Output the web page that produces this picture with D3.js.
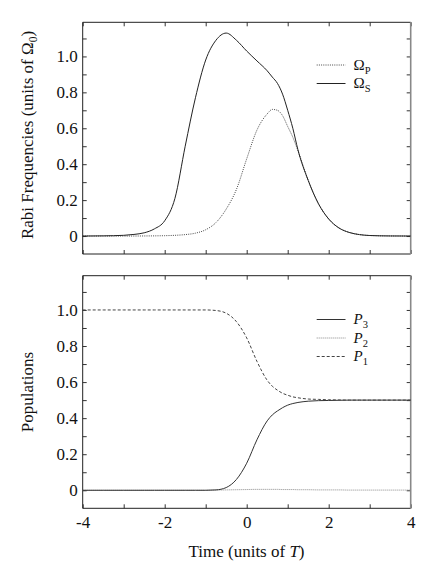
<!doctype html>
<html>
<head>
<style>
    body { margin: 0; background: #fff; }
    svg text { font-family: "Liberation Serif", "Times New Roman", serif !important; fill: #111; }
</style>
<script src="https://d3js.org/d3.v7.min.js"></script>
</head>
<body>

    <svg id="chart" width="436" height="578"></svg>

    <script>

        // time grid shared by every curve (units of T)
        var time = [-4, -3.5, -3, -2.75, -2.5, -2.25, -2, -1.75, -1.5, -1.25, -1, -0.75, -0.5, -0.25,
                    0, 0.25, 0.5, 0.625, 0.75, 0.875, 1, 1.125, 1.25, 1.5, 1.75, 2, 2.25, 2.5, 2.75, 3, 3.5, 4];

        // Rabi frequencies (units of Omega_0)
        var omegaS = [0, 0.001, 0.004, 0.009, 0.018, 0.04, 0.085, 0.21, 0.50, 0.77, 0.98, 1.09, 1.13, 1.09,
                      1.03, 0.975, 0.92, 0.885, 0.85, 0.79, 0.70, 0.60, 0.48, 0.31, 0.18, 0.095, 0.045, 0.02, 0.008, 0.003, 0.0005, 0];
        var omegaP = [0, 0, 0, 0, 0.0005, 0.001, 0.002, 0.004, 0.008, 0.016, 0.035, 0.075, 0.15, 0.26,
                      0.43, 0.59, 0.68, 0.705, 0.70, 0.67, 0.61, 0.55, 0.475, 0.31, 0.18, 0.095, 0.045, 0.02, 0.008, 0.003, 0.0005, 0];

        // populations
        var pop3 = [0, 0, 0, 0, 0, 0, 0, 0, 0, 0, 0, 0.002, 0.015, 0.06,
                    0.15, 0.28, 0.385, 0.418, 0.44, 0.458, 0.472, 0.481, 0.487, 0.494, 0.497, 0.498, 0.499, 0.5, 0.5, 0.5, 0.5, 0.5];
        var pop2 = [0, 0, 0, 0, 0, 0, 0, 0, 0, 0, 0, 0.001, 0.002, 0.003,
                    0.004, 0.005, 0.005, 0.005, 0.005, 0.004, 0.004, 0.004, 0.003, 0.003, 0.002, 0.002, 0.002, 0.001, 0.001, 0.001, 0.001, 0.001];
        var pop1 = [1, 1, 1, 1, 1, 1, 1, 1, 1, 1, 1, 0.997, 0.982, 0.935,
                    0.845, 0.715, 0.61, 0.577, 0.555, 0.538, 0.527, 0.518, 0.513, 0.506, 0.504, 0.502, 0.501, 0.5, 0.5, 0.5, 0.5, 0.5];

        var xTicks = [-4, -3, -2, -1, 0, 1, 2, 3, 4];
        var xLabels = [-4, -2, 0, 2, 4];
        var yTicks = [0, 0.1, 0.2, 0.3, 0.4, 0.5, 0.6, 0.7, 0.8, 0.9, 1.0, 1.1];
        var yLabels = [0, 0.2, 0.4, 0.6, 0.8, 1.0];

        var svg = d3.select("#chart");

        var left = 82.7, right = 410.7;
        var x = d3.scaleLinear().domain([-4, 4]).range([left, right]);

        function panel(top, bottom, series, legend, legendY, showX) {
            var y = d3.scaleLinear().domain([-0.1, 1.19]).range([bottom, top]);
            var g = svg.append("g");

            // ticks on all four sides, pointing inward
            var yAxis = d3.axisLeft(y).tickValues(yTicks).tickSize(-4).tickPadding(5)
                .tickFormat(function (d) { return yLabels.some(function (v) { return Math.abs(v - d) < 1e-6; }) ? (d === 0 ? "0" : d3.format(".1f")(d)) : ""; });
            g.append("g").attr("transform", "translate(" + left + ",0)").call(yAxis);
            g.append("g").attr("transform", "translate(" + right + ",0)")
                .call(d3.axisRight(y).tickValues(yTicks).tickSize(-4).tickFormat(""));
            g.append("g").attr("transform", "translate(0," + top + ")")
                .call(d3.axisTop(x).tickValues(xTicks).tickSize(-4).tickFormat(""));
            g.append("g").attr("transform", "translate(0," + bottom + ")")
                .call(d3.axisBottom(x).tickValues(xTicks).tickSize(-4).tickPadding(8)
                    .tickFormat(function (d) { return showX && xLabels.indexOf(d) >= 0 ? d : ""; }));

            g.selectAll("g").attr("font-family", null);
            g.selectAll(".domain").remove();
            g.selectAll(".tick line").attr("stroke", "#333");
            g.selectAll(".tick text").attr("font-size", 17).attr("fill", "#111");

            // frame
            g.append("path")
                .attr("d", "M" + right + "," + top + "H" + left + "V" + bottom + "H" + right)
                .attr("fill", "none").attr("stroke", "#222").attr("stroke-width", 1);
            g.append("line").attr("x1", right).attr("x2", right).attr("y1", top).attr("y2", bottom)
                .attr("stroke", "#888").attr("stroke-width", 1.6);

            var line = d3.line()
                .x(function (d, i) { return x(time[i]); })
                .y(function (d) { return y(d); })
                .curve(d3.curveMonotoneX);

            series.forEach(function (s) {
                g.append("path").datum(s.values)
                    .attr("d", line)
                    .attr("fill", "none")
                    .attr("stroke", s.color)
                    .attr("stroke-width", s.width)
                    .attr("stroke-dasharray", s.dash);
            });

            // legend
            legend.forEach(function (s, i) {
                var ly = legendY + i * 18.5;
                g.append("line").attr("x1", 316.7).attr("x2", 345.5).attr("y1", ly).attr("y2", ly)
                    .attr("stroke", s.color).attr("stroke-width", s.width).attr("stroke-dasharray", s.dash);
                var t = g.append("text").attr("x", 353.5).attr("y", ly + 4.5).attr("font-size", 15);
                t.append("tspan").text(s.main).attr("font-style", s.italic ? "italic" : null);
                t.append("tspan").text(s.sub).attr("font-size", 10.5).attr("dy", 4);
            });
            return y;
        }

        var sP = { values: omegaP, color: "#333", width: 0.9, dash: "1,1.2", main: "\u03A9", sub: "P" };
        var sS = { values: omegaS, color: "#222", width: 1, dash: null, main: "\u03A9", sub: "S" };
        panel(22.3, 254, [sP, sS], [sP, sS], 65, false);

        var s3 = { values: pop3, color: "#333", width: 1, dash: null, main: "P", sub: "3", italic: true };
        var s2 = { values: pop2, color: "#888", width: 1, dash: "1,1", main: "P", sub: "2", italic: true };
        var s1 = { values: pop1, color: "#444", width: 1, dash: "3,2", main: "P", sub: "1", italic: true };
        panel(275.7, 508.3, [s2, s3, s1], [s3, s2, s1], 319.5, true);

        // axis titles
        var t1 = svg.append("text")
            .attr("transform", "translate(33,135) rotate(-90)")
            .attr("text-anchor", "middle").attr("font-size", 17);
        t1.append("tspan").text("Rabi Frequencies (units of \u03A9");
        t1.append("tspan").text("0").attr("font-size", 11.5).attr("dy", 4);
        t1.append("tspan").text(")").attr("dy", -4);

        svg.append("text")
            .attr("transform", "translate(33,392) rotate(-90)")
            .attr("text-anchor", "middle").attr("font-size", 17)
            .text("Populations");

        var t3 = svg.append("text").attr("x", 246.5).attr("y", 557)
            .attr("text-anchor", "middle").attr("font-size", 17);
        t3.append("tspan").text("Time (units of ");
        t3.append("tspan").text("T").attr("font-style", "italic");
        t3.append("tspan").text(")");

    </script>

</body>
</html>
